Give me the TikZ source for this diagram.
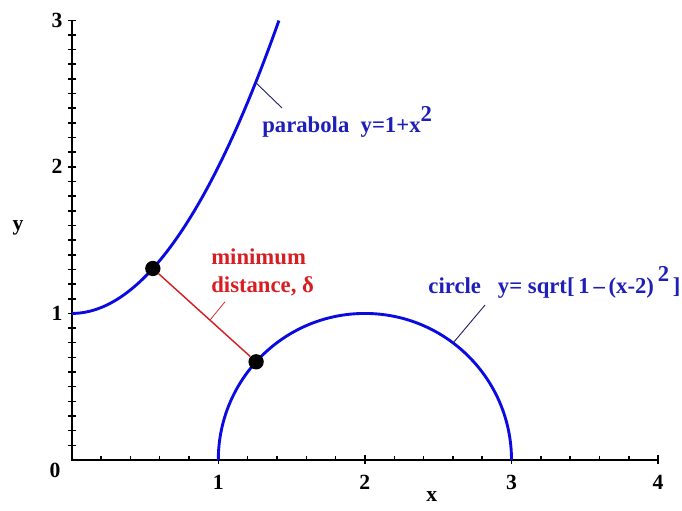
\documentclass[tikz,border=0pt]{standalone}
\usepackage{fontspec}
\setmainfont{Liberation Serif}
\usepackage{tikz}
\definecolor{curveblue}{RGB}{10,10,225}
\definecolor{labelblue}{RGB}{30,30,185}
\definecolor{distred}{RGB}{215,30,35}
\definecolor{leadline}{RGB}{30,30,100}

\begin{document}
\begin{tikzpicture}[x=2.86cm,y=2.86cm,font=\bfseries\fontsize{12}{15}\selectfont,
  dot/.style={circle,fill=black,inner sep=0pt,minimum size=8.5pt},
  curve/.style={curveblue,line width=1.6pt},
  lbl/.style={anchor=base west,inner sep=0pt,font=\bfseries\fontsize{12.6}{15.5}\selectfont},
  leader/.style={leadline,line width=0.5pt}]
\useasboundingbox(-0.489,-0.341)rectangle(4.163,3.138);
% axes and ticks
\draw[line width=1.1pt](0,3)--(0,0)--(4,0);
\foreach \i in {1,...,20} \draw[line width=0.8pt](\i/5,0)--++(0,0.03);
\foreach \i in {1,...,4} \draw[line width=0.8pt](\i,-0.025)--++(0,0.06);
\foreach \i in {1,...,30} \draw[line width=0.8pt](-0.025,\i/10)--(0.03,\i/10);
\foreach \i in {1,...,4} \node (xt\i) at (\i,-0.155) {\i};
\foreach \i in {1,...,3} \node[left] (yt\i) at (-0.02,\i) {\i};
\node (o) at (-0.114,-0.068) {0};
\node (xl) at (2.457,-0.252) {x};
\node (yl) at (-0.366,1.583) {y};
% the two curves
\draw[curve] plot[domain=0:1.4142,samples=60](\x,{1+\x*\x});
\draw[curve](1,0) arc[start angle=180,end angle=0,radius=1];
% closest points
\node[dot] (P) at (0.5536,1.3065) {};
\node[dot] (C) at (1.258,0.670) {};
\draw[distred,line width=0.8pt](P)--(C);
% labels
\node[lbl,labelblue] (parab) at (1.298,2.231) {parabola~~y=1+x\raisebox{1.1ex}{2}};
\node[lbl,labelblue] (circ) at (2.431,1.139) {circle~~~y= sqrt[\,1\,–\,(x-2)\,\raisebox{1.1ex}{2}\,]};
\node[lbl,distred,align=left] (dist) at (0.95,1.146) {minimum\\distance, δ};
\coordinate (pl) at (1.255,2.575);
\coordinate (pe) at (1.435,2.401);
\coordinate (cl) at (2.602,0.799);
\coordinate (ce) at (2.819,1.057);
\path (P)--(C) coordinate[pos=0.56] (dm);
\coordinate (de) at (1.046,1.08);
\draw[leader](pl)--(pe);
\draw[leader](cl)--(ce);
\draw[distred,line width=0.4pt](dm)--(de);
\end{tikzpicture}
\end{document}
